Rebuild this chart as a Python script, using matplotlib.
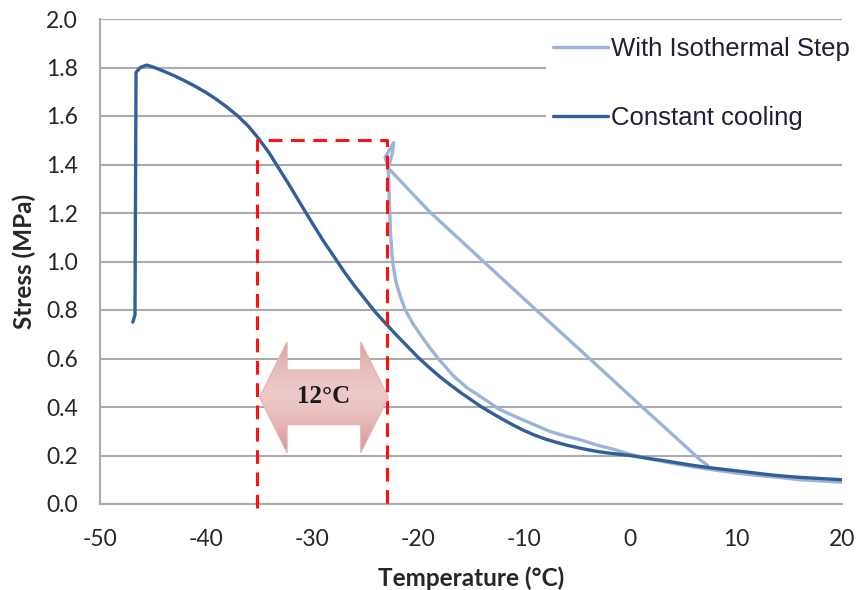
import numpy as np
import matplotlib
matplotlib.use("Agg")
import matplotlib.pyplot as plt
from matplotlib.patches import Polygon

plt.rcParams["axes.unicode_minus"] = False

# ---- data ----
cc_temp = [-46.9, -46.7, -46.6, -46.2, -45.6, -45.0, -44.0, -43.0, -42.0, -41.0, -40.0, -39.0,
           -38.0, -37.0, -36.0, -35.0, -34.0, -33.0, -32.0, -31.0, -30.0, -29.0, -28.0, -27.0,
           -26.0, -25.0, -24.0, -23.0, -22.0, -21.0, -20.0, -19.0, -18.0, -17.0, -16.0, -15.0,
           -14.0, -13.0, -12.0, -11.0, -10.0, -9.0, -8.0, -7.0, -6.0, -5.0, -4.0, -3.0, -2.0,
           -1.0, 0.0, 1.0, 2.0, 3.0, 4.0, 5.0, 6.0, 7.0, 8.0, 9.4, 11.0, 12.9, 14.0, 16.0,
           18.0, 20.0]
cc_stress = [0.75, 0.78, 1.78, 1.80, 1.81, 1.802, 1.785, 1.766, 1.745, 1.722, 1.697, 1.668,
             1.636, 1.60, 1.558, 1.505, 1.445, 1.375, 1.305, 1.232, 1.16, 1.09, 1.025, 0.96,
             0.90, 0.845, 0.79, 0.742, 0.695, 0.65, 0.605, 0.565, 0.527, 0.493, 0.46, 0.43,
             0.40, 0.374, 0.349, 0.325, 0.303, 0.284, 0.268, 0.255, 0.243, 0.233, 0.224, 0.216, 0.21,
             0.205, 0.20, 0.193, 0.186, 0.18, 0.173, 0.166, 0.159, 0.153, 0.147, 0.14, 0.132, 0.122,
             0.117, 0.11, 0.105, 0.10]

iso_temp = [7.3, 6.6, 4.0, 0.9, -4.7, -10.1, -13.2, -18.9, -22.8, -22.4, -22.3, -22.7, -23.1,
            -22.8, -22.7, -22.6, -22.4, -22.1, -21.7, -21.2, -20.5, -19.8, -18.9, -17.9, -16.7,
            -15.4, -14.0, -12.3, -10.8, -9.2, -7.6, -6.1, -4.7, -3.1, -1.5, 0.0, 2.0, 4.0, 6.0,
            8.0, 10.0, 12.0, 14.0, 16.0, 18.0, 20.0]
iso_stress = [0.16, 0.183, 0.287, 0.41, 0.635, 0.85, 0.975, 1.205, 1.385, 1.45, 1.49, 1.46, 1.43,
              1.38, 1.25, 1.12, 1.00, 0.92, 0.86, 0.80, 0.745, 0.70, 0.645, 0.59, 0.53,
              0.48, 0.44, 0.39, 0.36, 0.33, 0.30, 0.28, 0.265, 0.243, 0.225, 0.205, 0.185, 0.168,
              0.153, 0.14, 0.128, 0.118, 0.11, 0.10, 0.095, 0.09]

x_ticks = [-50, -40, -30, -20, -10, 0, 10, 20]
y_ticks = [0.0, 0.2, 0.4, 0.6, 0.8, 1.0, 1.2, 1.4, 1.6, 1.8, 2.0]
y_tick_labels = ["0.0", "0.2", "0.4", "0.6", "0.8", "1.0", "1.2", "1.4", "1.6", "1.8", "2.0"]

box_x = [-35.2, -22.9]
box_y = [0.0, 1.5]
arrow_label = "12°C"

series_labels = ["With Isothermal Step", "Constant cooling"]

# ---- figure ----
fig = plt.figure(figsize=(8.58, 5.90), dpi=100)
ax = fig.add_axes([100/858, 86/590, 742/858, 485/590])

TXT = "#262626"
GRID = "#ABABAB"

ax.set_xlim(-50, 20)
ax.set_ylim(0, 2.0)
ax.set_xticks(x_ticks)
ax.set_yticks(y_ticks)
ax.set_yticklabels(y_tick_labels)
ax.grid(axis="y", color=GRID, linewidth=1.5, zorder=0)
ax.set_axisbelow(True)
for s in ["top", "right"]:
    ax.spines[s].set_visible(False)
ax.spines["left"].set_color(GRID)
ax.spines["left"].set_linewidth(1.5)
ax.spines["bottom"].set_color(GRID)
ax.spines["bottom"].set_linewidth(1.5)
ax.tick_params(length=0, labelsize=16.5, labelcolor=TXT)
ax.tick_params(axis="y", pad=16)
ax.tick_params(axis="x", pad=18)
for lab in ax.get_xticklabels() + ax.get_yticklabels():
    lab.set_fontfamily("Lato")

ax.set_xlabel("Temperature (°C)", fontsize=17.5, fontweight="bold", family="Lato", color=TXT, labelpad=12)
ax.set_ylabel("Stress (MPa)", fontsize=17.5, fontweight="bold", family="Lato", color=TXT, labelpad=7)

# ---- series ----
l_iso, = ax.plot(iso_temp, iso_stress, color="#9DB4D8", linewidth=2.4, zorder=3,
                 solid_joinstyle="round", solid_capstyle="round", label=series_labels[0])
l_cc, = ax.plot(cc_temp, cc_stress, color="#325F98", linewidth=2.4, zorder=4,
                solid_joinstyle="round", solid_capstyle="round", label=series_labels[1])

# ---- red dashed box ----
ax.plot([box_x[0], box_x[0], box_x[1], box_x[1]], [box_y[0] - 0.015, box_y[1], box_y[1], box_y[0] - 0.015],
        color="#FF1010", linewidth=2.2, linestyle=(0, (4.5, 2.8)), zorder=5, clip_on=False)

# ---- double block arrow ----
xl, xr = box_x[0] + 0.25, box_x[1] + 0.1
yc = 0.44
hh, sh, hl = 0.229, 0.113, 2.6
verts = [(xl, yc), (xl + hl, yc + hh), (xl + hl, yc + sh), (xr - hl, yc + sh), (xr - hl, yc + hh),
         (xr, yc), (xr - hl, yc - hh), (xr - hl, yc - sh), (xl + hl, yc - sh), (xl + hl, yc - hh)]
poly = Polygon(verts, closed=True, facecolor="none", edgecolor="#E3B3B3", linewidth=0.8, zorder=6)
ax.add_patch(poly)
grad = np.array([0.0, 0.35, 0.55, 0.8, 1.0])
vals = np.interp(np.linspace(0, 1, 200), grad, [0.0, 0.55, 0.65, 0.45, 0.1])
c_dark = np.array([0.84, 0.58, 0.58])
c_light = np.array([0.98, 0.90, 0.90])
img = (c_dark[None, :] + (c_light - c_dark)[None, :] * vals[:, None])[:, None, :]
im = ax.imshow(np.repeat(img, 2, axis=1), extent=[xl, xr, yc - hh, yc + hh], origin="lower",
               aspect="auto", zorder=5.5, interpolation="bilinear")
im.set_clip_path(poly)
ax.set_xlim(-50, 20)
ax.set_ylim(0, 2.0)
ax.text((xl + xr) / 2, yc + 0.005, arrow_label, ha="center", va="center", fontsize=18,
        fontweight="bold", family="Liberation Serif", color="#1A1A1A", zorder=7)

# ---- legend ----
leg = ax.legend(handles=[l_iso, l_cc], loc="upper right", bbox_to_anchor=(1.0216, 0.979),
                frameon=True, facecolor="white", edgecolor="none", framealpha=1.0,
                prop={"family": "Liberation Sans", "size": 18.5}, handlelength=2.14,
                handletextpad=0.12, labelspacing=1.74, borderpad=0.3, borderaxespad=0.0)
for t in leg.get_texts():
    t.set_color("#1F1F3A")
leg.set_zorder(10)

fig.savefig("out.png", dpi=100)
